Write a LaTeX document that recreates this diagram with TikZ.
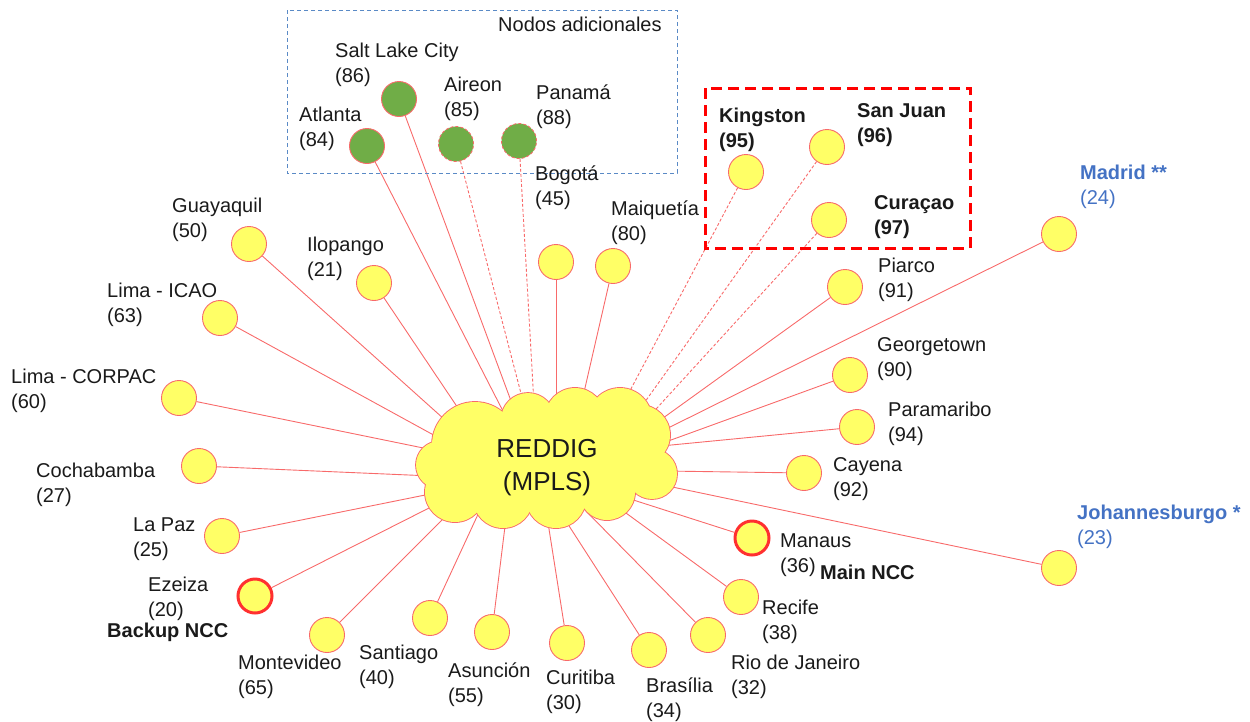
\documentclass[tikz,border=0pt]{standalone}
\usepackage{fontspec}
\setmainfont{Liberation Sans}
\pgfdeclarelayer{bg}
\pgfsetlayers{bg,main}
\definecolor{lnred}{HTML}{F86A6A}
\definecolor{nodefill}{HTML}{FFFF66}
\definecolor{greenf}{HTML}{70AD47}
\definecolor{bluet}{HTML}{4472C4}
\definecolor{boxblue}{HTML}{5A8AC6}
\definecolor{nccred}{HTML}{FF3030}
\definecolor{txt}{HTML}{1A1A1A}
\newcommand{\lbtop}{\rule{0pt}{19pt}}
\begin{document}
\begin{tikzpicture}[x=1pt,y=-1pt,
  stn/.style={circle, draw=lnred, fill=nodefill, line width=0.9pt, minimum size=35pt, inner sep=0pt},
  ncc/.style={stn, draw=nccred, line width=3pt, minimum size=34pt},
  grn/.style={stn, fill=greenf},
  grnd/.style={grn, dash pattern=on 3pt off 2pt},
  lbl/.style={anchor=north west, inner sep=0pt, align=left, text=txt, font=\fontsize{20}{24.5}\selectfont},
  blbl/.style={lbl, font=\fontsize{20}{24.5}\selectfont\bfseries},
  link/.style={draw=lnred, line width=0.9pt},
  dlink/.style={link, dash pattern=on 3pt off 2pt},
  bbox/.style={draw=boxblue, line width=0.9pt, dash pattern=on 4pt off 3pt},
  rbox/.style={draw=red, line width=3pt, dash pattern=on 11pt off 6pt},
  puffline/.style={draw=lnred, line width=1.8pt},
  pufffill/.style={fill=nodefill}
]
\useasboundingbox (0,0) rectangle (1250,721);

% frames
\draw[bbox] (287,10) rectangle (677,173);
\draw[rbox] (705,88) rectangle (970,248);

% cloud (union of puffs)
\foreach \x/\y/\r in {440/465/24, 475/445/43, 528/420/27, 575/418/30, 620/420/32, 640/435/30, 652/474/25, 607/492/28, 556/498/30, 503/498/30, 455/492/30}
  \draw[puffline] (\x,\y) circle[radius=\r pt];
\fill[pufffill] (440,465) -- (475,445) -- (528,420) -- (575,418) -- (620,420) -- (640,435) -- (652,474) -- (607,492) -- (556,498) -- (503,498) -- (455,492) -- cycle;
\foreach \x/\y/\r in {440/465/24, 475/445/43, 528/420/27, 575/418/30, 620/420/32, 640/435/30, 652/474/25, 607/492/28, 556/498/30, 503/498/30, 455/492/30}
  \fill[pufffill] (\x,\y) circle[radius=\r pt];
\node[inner sep=0pt, align=center, text=txt, font=\fontsize{26}{33}\selectfont] (cloudtxt) at (547,468) {REDDIG\\(MPLS)};

% stations
\node[grn] (SaltLake) at (399,99) {};
\node[grn] (Atlanta) at (367,146) {};
\node[grnd] (Aireon) at (456,144) {};
\node[grnd] (Panama) at (519,141) {};
\node[stn] (Kingston) at (746,172) {};
\node[stn] (SanJuan) at (827,147) {};
\node[stn] (Curacao) at (829,220) {};
\node[stn] (Madrid) at (1059,234) {};
\node[stn] (Johannesburgo) at (1059,568) {};
\node[stn] (Guayaquil) at (249,244) {};
\node[stn] (Ilopango) at (374,283) {};
\node[stn] (Bogota) at (556,262) {};
\node[stn] (Maiquetia) at (613,266) {};
\node[stn] (LimaICAO) at (220,318) {};
\node[stn] (LimaCORPAC) at (179,398) {};
\node[stn] (Cochabamba) at (199,466) {};
\node[stn] (LaPaz) at (222,536) {};
\node[ncc] (Ezeiza) at (255,596) {};
\node[stn] (Montevideo) at (327,635) {};
\node[stn] (Santiago) at (430,618) {};
\node[stn] (Asuncion) at (492,632) {};
\node[stn] (Curitiba) at (567,643) {};
\node[stn] (Brasilia) at (649,650) {};
\node[stn] (Rio) at (708,635) {};
\node[stn] (Recife) at (741,597) {};
\node[ncc] (Manaus) at (752,538) {};
\node[stn] (Cayena) at (804,473) {};
\node[stn] (Paramaribo) at (857,427) {};
\node[stn] (Georgetown) at (850,375) {};
\node[stn] (Piarco) at (845,287) {};

% labels
\node[lbl] (tNodos) at (498,12.3) {\lbtop Nodos adicionales};
\node[lbl] (tSaltLake) at (335,38.3) {\lbtop Salt Lake City\\(86)};
\node[lbl] (tAtlanta) at (299,102.3) {\lbtop Atlanta\\(84)};
\node[lbl] (tAireon) at (444,72.3) {\lbtop Aireon\\(85)};
\node[lbl] (tPanama) at (536,80.3) {\lbtop Panamá\\(88)};
\node[blbl] (tKingston) at (719,103.3) {\lbtop Kingston\\(95)};
\node[blbl] (tSanJuan) at (857,98.3) {\lbtop San Juan\\(96)};
\node[blbl] (tCuracao) at (874,190.3) {\lbtop Curaçao\\(97)};
\node[lbl, text=bluet] (tMadrid) at (1080,160.3) {\lbtop\textbf{Madrid **}\\(24)};
\node[lbl, text=bluet] (tJohannesburgo) at (1077,500.3) {\lbtop\textbf{Johannesburgo *}\\(23)};
\node[lbl] (tGuayaquil) at (172,193.3) {\lbtop Guayaquil\\(50)};
\node[lbl] (tIlopango) at (307,232.3) {\lbtop Ilopango\\(21)};
\node[lbl] (tBogota) at (535,161.3) {\lbtop Bogotá\\(45)};
\node[lbl] (tMaiquetia) at (611,196.3) {\lbtop Maiquetía\\(80)};
\node[lbl] (tLimaICAO) at (107,278.3) {\lbtop Lima - ICAO\\(63)};
\node[lbl] (tLimaCORPAC) at (11,364.3) {\lbtop Lima - CORPAC\\(60)};
\node[lbl] (tCochabamba) at (36,458.3) {\lbtop Cochabamba\\(27)};
\node[lbl] (tLaPaz) at (133,512.3) {\lbtop La Paz\\(25)};
\node[lbl] (tEzeiza) at (148,572.3) {\lbtop Ezeiza\\(20)};
\node[blbl] (tBackup) at (107,618.3) {\lbtop Backup NCC};
\node[lbl] (tMontevideo) at (238,650.3) {\lbtop Montevideo\\(65)};
\node[lbl] (tSantiago) at (359,640.3) {\lbtop Santiago\\(40)};
\node[lbl] (tAsuncion) at (448,658.3) {\lbtop Asunción\\(55)};
\node[lbl] (tCuritiba) at (546,665.3) {\lbtop Curitiba\\(30)};
\node[lbl] (tBrasilia) at (646,673.3) {\lbtop Brasília\\(34)};
\node[lbl] (tRio) at (731,650.3) {\lbtop Rio de Janeiro\\(32)};
\node[lbl] (tRecife) at (762,595.3) {\lbtop Recife\\(38)};
\node[lbl] (tManaus) at (780,528.3) {\lbtop Manaus\\(36)};
\node[blbl] (tMain) at (820,560.3) {\lbtop Main NCC};
\node[lbl] (tCayena) at (833,452.3) {\lbtop Cayena\\(92)};
\node[lbl] (tParamaribo) at (888,397.3) {\lbtop Paramaribo\\(94)};
\node[lbl] (tGeorgetown) at (877,332.3) {\lbtop Georgetown\\(90)};
\node[lbl] (tPiarco) at (878,253.3) {\lbtop Piarco\\(91)};

% connector ends inside the cloud
\coordinate (eGuayaquil) at (454,428);
\coordinate (eLimaICAO) at (450,444);
\coordinate (eLimaCORPAC) at (438,451);
\coordinate (eCochabamba) at (432,476);
\coordinate (eLaPaz) at (440,492);
\coordinate (eEzeiza) at (433,506);
\coordinate (eMontevideo) at (447,515);
\coordinate (eSantiago) at (480,510);
\coordinate (eAsuncion) at (507,510);
\coordinate (eCuritiba) at (546,510);
\coordinate (eBrasilia) at (562,515);
\coordinate (eRio) at (580,505);
\coordinate (eRecife) at (615,505);
\coordinate (eManaus) at (624,497);
\coordinate (eJohannesburgo) at (658,484);
\coordinate (eCayena) at (665,471);
\coordinate (eParamaribo) at (661,446);
\coordinate (eGeorgetown) at (660,444);
\coordinate (eMadrid) at (658,433);
\coordinate (ePiarco) at (652,426);
\coordinate (eCuracao) at (646,420);
\coordinate (eSanJuan) at (637,413);
\coordinate (eKingston) at (624,402);
\coordinate (eMaiquetia) at (582,401);
\coordinate (eBogota) at (556,406);
\coordinate (ePanama) at (534,404);
\coordinate (eAireon) at (524,405);
\coordinate (eSaltLake) at (514,409);
\coordinate (eAtlanta) at (506,417);
\coordinate (eIlopango) at (466,420);

\begin{pgfonlayer}{bg}
\foreach \s in {Guayaquil,LimaICAO,LimaCORPAC,Cochabamba,LaPaz,Ezeiza,Montevideo,Santiago,Asuncion,Curitiba,Brasilia,Rio,Recife,Manaus,Johannesburgo,Cayena,Paramaribo,Georgetown,Madrid,Piarco,Maiquetia,Bogota,SaltLake,Atlanta,Ilopango}
  \draw[link] (\s) -- (e\s);
\foreach \s in {Curacao,SanJuan,Kingston,Panama,Aireon}
  \draw[dlink] (\s) -- (e\s);
\end{pgfonlayer}
\end{tikzpicture}
\end{document}
